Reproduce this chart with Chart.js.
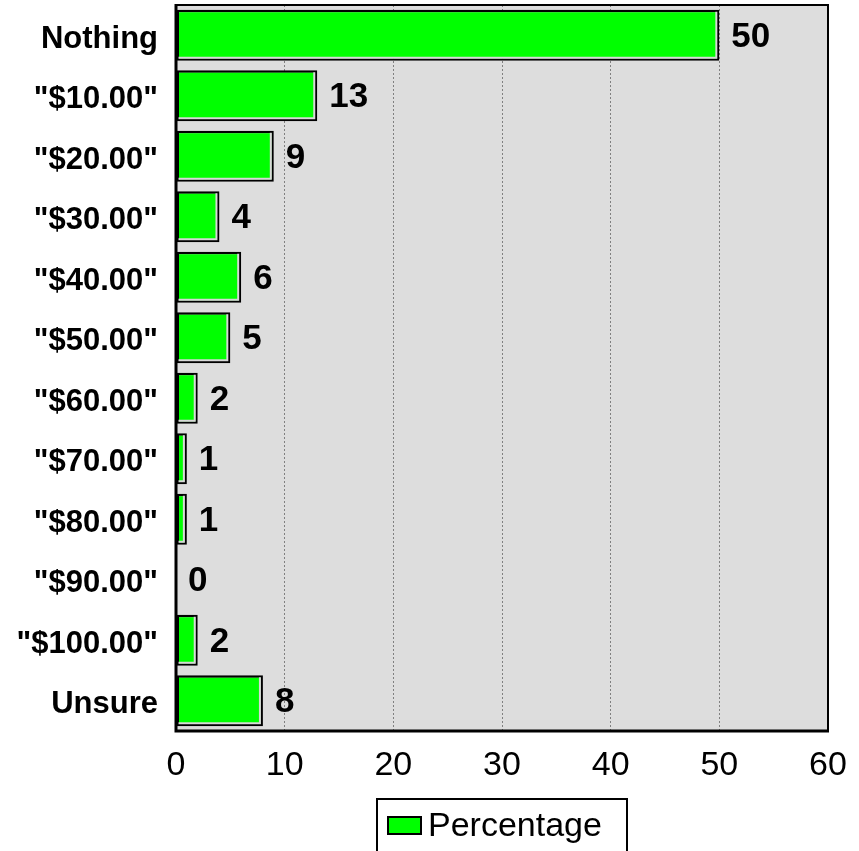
<!DOCTYPE html>
<html>
<head>
<meta charset="utf-8">
<script src="https://cdn.jsdelivr.net/npm/chart.js@4"></script>
<style>
  html, body { margin: 0; padding: 0; background: #fff; }
  #wrap { width: 859px; height: 851px; }
</style>
</head>
<body>
<div id="wrap"><canvas id="priceChart" width="859" height="851"></canvas></div>
<script>
const categories = ['Nothing', '"$10.00"', '"$20.00"', '"$30.00"', '"$40.00"', '"$50.00"',
  '"$60.00"', '"$70.00"', '"$80.00"', '"$90.00"', '"$100.00"', 'Unsure'];
const percentages = [50, 13, 9, 4, 6, 5, 2, 1, 1, 0, 2, 8];
const xTicks = [0, 10, 20, 30, 40, 50, 60];
const seriesName = 'Percentage';

const FONT = '"Liberation Sans", Arial, sans-serif';

// gray plot background plus the axis frame
const plotFrame = {
  id: 'plotFrame',
  beforeDraw(chart) {
    const { ctx, chartArea: a } = chart;
    ctx.save();
    ctx.fillStyle = '#dddddd';
    ctx.fillRect(a.left, a.top, a.right - a.left, a.bottom - a.top);
    ctx.restore();
  },
  afterDraw(chart) {
    const { ctx, chartArea: a } = chart;
    ctx.save();
    ctx.strokeStyle = '#000';
    ctx.lineWidth = 2;
    ctx.beginPath();
    ctx.moveTo(a.left, a.top);
    ctx.lineTo(a.right, a.top);
    ctx.lineTo(a.right, a.bottom);
    ctx.stroke();
    ctx.lineWidth = 3;
    ctx.beginPath();
    ctx.moveTo(a.left, a.top - 1);
    ctx.lineTo(a.left, a.bottom);
    ctx.lineTo(a.right + 1, a.bottom);
    ctx.stroke();
    ctx.restore();
  }
};

// light inner edge on the right/bottom of each bar, then the value label
const barValues = {
  id: 'barValues',
  afterDatasetsDraw(chart) {
    const { ctx } = chart;
    const meta = chart.getDatasetMeta(0);
    ctx.save();
    ctx.strokeStyle = '#d8d8d8';
    ctx.lineWidth = 2;
    meta.data.forEach((bar) => {
      const { x, y, base, height } = bar.getProps(['x', 'y', 'base', 'height']);
      if (x - base < 6) return;
      const top = y - height / 2 + 2, bottom = y + height / 2 - 3;
      ctx.beginPath();
      ctx.moveTo(base + 2, bottom);
      ctx.lineTo(x - 3, bottom);
      ctx.lineTo(x - 3, top);
      ctx.stroke();
    });
    ctx.font = 'bold 35px ' + FONT;
    ctx.fillStyle = '#000';
    ctx.textBaseline = 'middle';
    ctx.textAlign = 'left';
    meta.data.forEach((bar, i) => {
      ctx.fillText(String(percentages[i]), bar.x + 12, bar.y + 2);
    });
    ctx.restore();
  }
};

// boxed legend under the axis
const boxLegend = {
  id: 'boxLegend',
  afterDraw(chart) {
    const { ctx, chartArea: a } = chart;
    const cx = (a.left + a.right) / 2;
    const top = a.bottom + 68;
    ctx.save();
    ctx.strokeStyle = '#000';
    ctx.lineWidth = 2;
    ctx.strokeRect(cx - 125, top, 250, 80);
    ctx.fillStyle = '#00ff00';
    ctx.fillRect(cx - 114, top + 18, 33, 17);
    ctx.strokeRect(cx - 114, top + 18, 33, 17);
    ctx.fillStyle = '#000';
    ctx.font = '34px ' + FONT;
    ctx.textBaseline = 'middle';
    ctx.fillText(seriesName, cx - 74, top + 28);
    ctx.restore();
  }
};

new Chart(document.getElementById('priceChart').getContext('2d'), {
  type: 'bar',
  data: {
    labels: categories,
    datasets: [{
      label: seriesName,
      data: percentages,
      backgroundColor: '#00ff00',
      borderColor: '#000000',
      borderWidth: 2.5,
      borderSkipped: false,
      categoryPercentage: 1,
      barPercentage: 0.84
    }]
  },
  options: {
    indexAxis: 'y',
    responsive: false,
    animation: false,
    layout: { padding: { top: 5, right: 31, left: 0, bottom: 0 } },
    plugins: {
      legend: { display: false },
      tooltip: { enabled: false }
    },
    scales: {
      x: {
        min: 0,
        max: 60,
        afterBuildTicks: scale => { scale.ticks = xTicks.map(v => ({ value: v })); },
        afterFit: scale => {
          scale.height = 120;
          scale.paddingLeft = 0;
          scale.paddingRight = 0;
        },
        border: { display: false, dash: [2, 2] },
        grid: {
          color: '#808080',
          lineWidth: 1,
          drawTicks: false
        },
        ticks: {
          color: '#000',
          padding: 14,
          maxRotation: 0,
          font: { family: FONT, size: 34 }
        }
      },
      y: {
        afterFit: scale => {
          scale.width = 176;
          scale.paddingTop = 0;
          scale.paddingBottom = 0;
        },
        border: { display: false },
        grid: { display: false, drawTicks: false },
        ticks: {
          color: '#000',
          padding: 18,
          labelOffset: 4,
          font: { family: FONT, size: 31, weight: 'bold' }
        }
      }
    }
  },
  plugins: [plotFrame, barValues, boxLegend]
});
</script>
</body>
</html>
